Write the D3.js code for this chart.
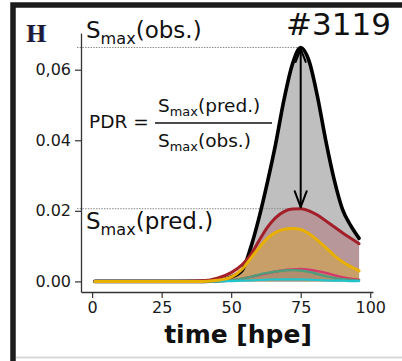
<!DOCTYPE html>
<html>
<head>
<meta charset="utf-8">
<script src="https://cdn.jsdelivr.net/npm/d3@7"></script>
<style>
  html, body { margin: 0; padding: 0; background: #fff; }
  svg { display: block; font-family: "DejaVu Sans", sans-serif; }
</style>
</head>
<body>
<svg id="chart" width="402" height="361"></svg>
<script>
// Time since emergence (hours) for the sampled points
const hours = [1, 10, 20, 30, 40, 45, 50, 54, 57, 60, 63, 66, 69, 72, 75, 78, 81, 84, 87, 90, 93, 96];

// Observed signal
const observed = [0, 0, 0, 0, 0, 0.0002, 0.0012, 0.0032, 0.0095, 0.018, 0.028, 0.039, 0.0515, 0.0615, 0.0663, 0.0625, 0.0525, 0.040, 0.029, 0.0205, 0.0158, 0.0122];

// Predicted signals
const predRed = [0, 0, 0, 0, 0.0002, 0.0009, 0.0025, 0.0048, 0.0075, 0.0115, 0.0153, 0.0181, 0.0198, 0.0205, 0.0206, 0.0200, 0.0188, 0.0172, 0.0155, 0.0138, 0.0122, 0.0107];
const predYellow = [0, 0, 0, 0, 0, 0.0003, 0.0012, 0.0035, 0.0065, 0.0095, 0.0122, 0.0139, 0.0148, 0.0150, 0.0147, 0.0135, 0.0117, 0.0096, 0.0074, 0.0056, 0.0042, 0.0030];
const predPink = [0, 0, 0, 0, 0, 0, 0.0003, 0.0008, 0.0013, 0.0018, 0.0023, 0.0028, 0.0032, 0.0034, 0.0035, 0.0033, 0.0029, 0.0024, 0.0018, 0.0012, 0.0008, 0.0005];
const predGreen = [0, 0, 0, 0, 0, 0, 0.0003, 0.0008, 0.0013, 0.0019, 0.0024, 0.0028, 0.0031, 0.0032, 0.0031, 0.0027, 0.0021, 0.0015, 0.0010, 0.0006, 0.0004, 0.0003];
const predCyan = [0, 0, 0, 0, 0, 0, 0.0001, 0.0002, 0.0003, 0.0004, 0.0005, 0.0006, 0.0006, 0.0006, 0.0006, 0.0005, 0.0004, 0.0003, 0.0002, 0.0002, 0.0001, 0.0001];

// Axis ticks
const xTicks = [0, 25, 50, 75, 100];
const xTickLabels = ["0", "25", "50", "75", "100"];
const yTicks = [0, 0.02, 0.04, 0.06];
const yTickLabels = ["0.00", "0.02", "0.04", "0,06"];

const panelLetter = "H";
const eventId = "#3119";
const xTitle = "time [hpe]";

const svg = d3.select("#chart");

// Panel frame
svg.append("path")
  .attr("d", "M13,361 L13,5 L402,5")
  .attr("fill", "none").attr("stroke", "#1c1c1c").attr("stroke-width", 5.5);
svg.append("line")
  .attr("x1", 16).attr("x2", 402).attr("y1", 357.5).attr("y2", 357.5)
  .attr("stroke", "#dadada").attr("stroke-width", 2);

const x = d3.scaleLinear().domain([-4, 101]).range([81, 373]);
const y = d3.scaleLinear().domain([-0.003, 0.0704]).range([292, 33]);

const rows = arr => hours.map((t, i) => ({ t, v: arr[i] }));

const area = d3.area().x(d => x(d.t)).y0(y(0)).y1(d => y(d.v)).curve(d3.curveMonotoneX);
const line = d3.line().x(d => x(d.t)).y(d => y(d.v)).curve(d3.curveMonotoneX);

// Series in fill order; "z" sets the order in which the curves are stroked
const series = [
  { values: observed, color: "#000000", width: 3.6, alpha: 0.25, z: 0 },
  { values: predRed, color: "#a3202a", width: 3, alpha: 0.25, z: 1 },
  { values: predYellow, color: "#e8b000", width: 3, alpha: 0.32, z: 5 },
  { values: predPink, color: "#d23a6c", width: 2.4, alpha: 0.2, z: 2 },
  { values: predGreen, color: "#4e9c7c", width: 2.4, alpha: 0.2, z: 3 },
  { values: predCyan, color: "#22c4cc", width: 2.2, alpha: 0.2, z: 4 }
];

const plot = svg.append("g");

// Shaded areas under each curve
series.forEach(s => {
  plot.append("path").datum(rows(s.values))
    .attr("d", area).attr("fill", s.color).attr("fill-opacity", s.alpha);
});

// Peak reference lines
const obsPeak = d3.max(observed);
const predPeak = d3.max(predRed);
const peakT = hours[observed.indexOf(obsPeak)];
[obsPeak, predPeak].forEach(v => {
  plot.append("line")
    .attr("x1", 77).attr("x2", x(peakT))
    .attr("y1", y(v)).attr("y2", y(v))
    .attr("stroke", "#8a8a8a").attr("stroke-width", 1)
    .attr("stroke-dasharray", "1.5,1.2");
});

// Curves
series.slice().sort((a, b) => a.z - b.z).forEach(s => {
  plot.append("path").datum(rows(s.values))
    .attr("d", line).attr("fill", "none")
    .attr("stroke", s.color).attr("stroke-width", s.width)
    .attr("stroke-linejoin", "round").attr("stroke-linecap", "round");
});

// Double-headed arrow between the two peaks
const ax = x(peakT), aTop = y(obsPeak) + 1.5, aBot = y(predPeak) - 1.5;
const arrow = plot.append("g").attr("stroke", "#000").attr("fill", "none")
  .attr("stroke-width", 2).attr("stroke-linecap", "round").attr("stroke-linejoin", "round");
arrow.append("line").attr("x1", ax).attr("x2", ax).attr("y1", aTop).attr("y2", aBot);
arrow.append("path").attr("d", `M${ax - 6},${aBot - 16} L${ax},${aBot} L${ax + 6},${aBot - 16}`);
arrow.append("path").attr("d", `M${ax - 5},${aTop + 13} L${ax},${aTop} L${ax + 5},${aTop + 13}`);

// Axes
const axisColor = "#333";
const gx = svg.append("g").attr("transform", `translate(0,${y.range()[0]})`)
  .call(d3.axisBottom(x).tickValues(xTicks).tickFormat((d, i) => xTickLabels[i]).tickSize(6).tickPadding(4).tickSizeOuter(0));
const gy = svg.append("g").attr("transform", `translate(${x.range()[0]},0)`)
  .call(d3.axisLeft(y).tickValues(yTicks).tickFormat((d, i) => yTickLabels[i]).tickSize(6).tickPadding(4).tickSizeOuter(0));
[gx, gy].forEach(g => {
  g.select(".domain").attr("stroke", axisColor).attr("stroke-width", 1.3);
  g.selectAll(".tick line").attr("stroke", axisColor).attr("stroke-width", 1.2);
  g.selectAll(".tick text").attr("fill", "#1a1a1a")
    .style("font-family", "'DejaVu Sans', sans-serif").style("font-size", "16px");
});

svg.append("text")
  .attr("x", 238).attr("y", 343).attr("text-anchor", "middle")
  .style("font-family", "'DejaVu Sans', sans-serif").style("font-weight", "bold").style("font-size", "25px")
  .attr("fill", "#111").text(xTitle);

// Panel letter with a slight colour fringe
svg.append("text")
  .attr("x", 26.5).attr("y", 42)
  .style("font-family", "'Liberation Serif', 'DejaVu Serif', serif").style("font-weight", "bold").style("font-size", "25px")
  .style("text-shadow", "-0.8px 0 rgba(217,138,58,0.6), 0.8px 0 rgba(58,90,200,0.6)")
  .attr("fill", "#1a1a3a").text(panelLetter);

svg.append("text")
  .attr("x", 286).attr("y", 35)
  .style("font-size", "31px").attr("fill", "#111").text(eventId);

// S_max label with subscript
function smax(g, px, py, size, suffix) {
  const t = g.append("text").attr("x", px).attr("y", py)
    .style("font-size", size + "px").attr("fill", "#111");
  t.append("tspan").text("S");
  t.append("tspan").attr("dy", size * 0.24).style("font-size", (size * 0.7) + "px").text("max");
  t.append("tspan").attr("dy", -size * 0.24).text(suffix);
  return t;
}

smax(svg, 86, 38, 23, "(obs.)");
smax(svg, 86, 229, 23, "(pred.)");

// PDR ratio
svg.append("text").attr("x", 89).attr("y", 128)
  .style("font-size", "18.5px").attr("fill", "#111").text("PDR =");
smax(svg, 158, 112, 18.5, "(pred.)");
smax(svg, 158, 147, 18.5, "(obs.)");
svg.append("line").attr("x1", 155).attr("x2", 272).attr("y1", 123).attr("y2", 123)
  .attr("stroke", "#111").attr("stroke-width", 1.3);
</script>
</body>
</html>
